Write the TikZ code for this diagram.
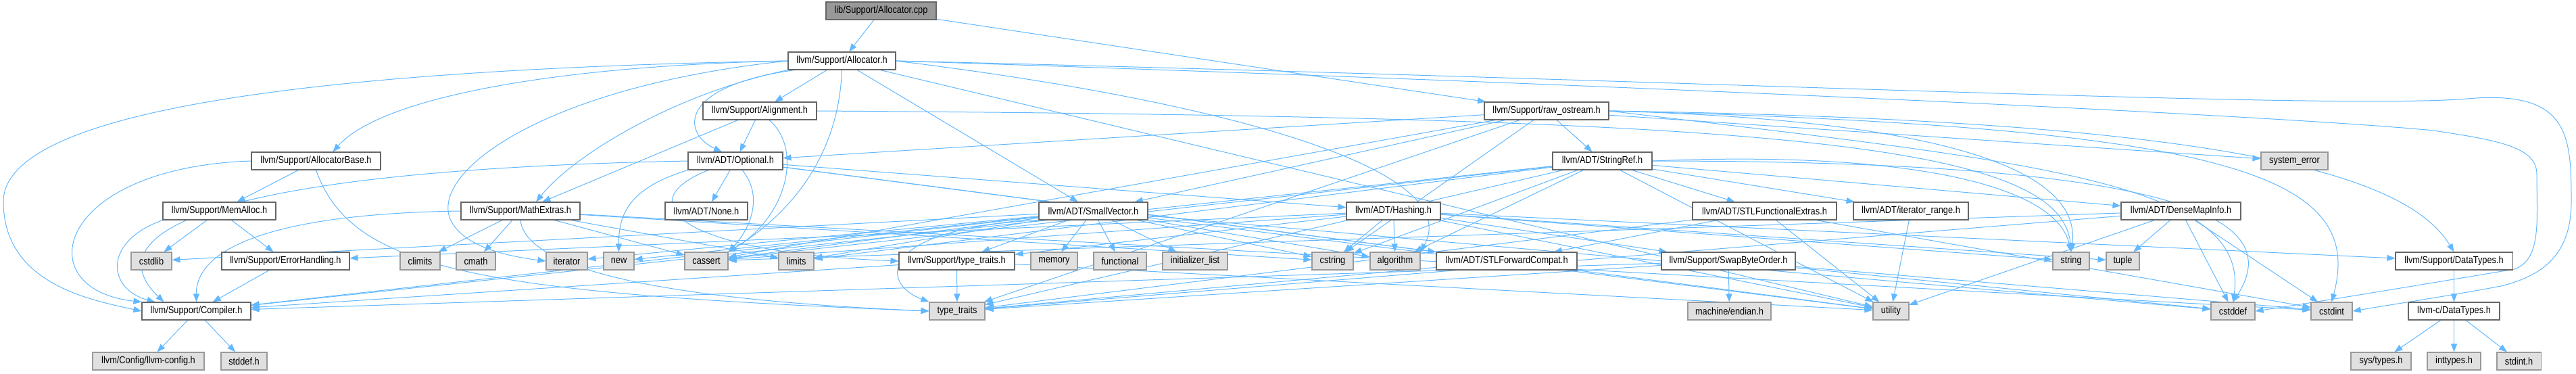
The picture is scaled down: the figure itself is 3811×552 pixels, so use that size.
\documentclass[tikz,border=0pt]{standalone}
\usepackage{fontspec}
\setmainfont{Liberation Sans}[FakeStretch=0.87]
\usetikzlibrary{arrows.meta,calc}
\definecolor{edgec}{HTML}{63B8FF}
\definecolor{bordA}{HTML}{666666}
\definecolor{bordB}{HTML}{999999}
\definecolor{fillB}{HTML}{E0E0E0}
\definecolor{fillR}{HTML}{999999}
\pgfdeclarelayer{bg}
\pgfsetlayers{bg,main}
\begin{document}
\begin{tikzpicture}[x=1pt,y=-1pt,
  box/.style={draw=bordA, fill=white, line width=1.1pt, minimum height=26pt, inner sep=0pt, font=\fontsize{14.7pt}{16pt}\selectfont},
  sysbox/.style={box, draw=bordB, fill=fillB},
  rootbox/.style={box, draw=bordA, fill=fillR},
  edge/.style={draw=edgec, line width=1pt, -{Triangle[length=12pt,width=9pt]}}]
\useasboundingbox (0,0) rectangle (3811,552);
% row 0
\node[rootbox, minimum width=163pt] (cpp) at (1303.5,16) {lib/Support/Allocator.cpp};
% row 1
\node[box, minimum width=159pt] (alloc) at (1245.5,90) {llvm/Support/Allocator.h};
% row 2
\node[box, minimum width=168pt] (align) at (1124,164) {llvm/Support/Alignment.h};
\node[box, minimum width=184pt] (raw) at (2288,164) {llvm/Support/raw\_ostream.h};
% row 3
\node[box, minimum width=191pt] (allocbase) at (467.5,238) {llvm/Support/AllocatorBase.h};
\node[box, minimum width=140pt] (optional) at (1088,238) {llvm/ADT/Optional.h};
\node[box, minimum width=147pt] (stringref) at (2370.5,238) {llvm/ADT/StringRef.h};
\node[sysbox, minimum width=99pt] (syserr) at (3394.5,238) {system\_error};
% row 4
\node[box, minimum width=167pt] (memalloc) at (324.5,312) {llvm/Support/MemAlloc.h};
\node[box, minimum width=176pt] (mathextras) at (770,312) {llvm/Support/MathExtras.h};
\node[box, minimum width=122pt] (none) at (1045,312) {llvm/ADT/None.h};
\node[box, minimum width=161pt] (smallvec) at (1617.5,312) {llvm/ADT/SmallVector.h};
\node[box, minimum width=139pt] (hashing) at (2061.5,312) {llvm/ADT/Hashing.h};
\node[box, minimum width=213pt] (stlfunc) at (2610.5,312) {llvm/ADT/STLFunctionalExtras.h};
\node[box, minimum width=170pt] (itrange) at (2827,312) {llvm/ADT/iterator\_range.h};
\node[box, minimum width=177pt] (densemap) at (3226.5,312) {llvm/ADT/DenseMapInfo.h};
% row 5
\node[sysbox, minimum width=60pt] (cstdlib) at (224,386) {cstdlib};
\node[box, minimum width=189pt] (errh) at (422.5,386) {llvm/Support/ErrorHandling.h};
\node[sysbox, minimum width=59pt] (climits) at (621.5,386) {climits};
\node[sysbox, minimum width=58pt] (cmath) at (704,386) {cmath};
\node[sysbox, minimum width=61pt] (iterator) at (838.5,386) {iterator};
\node[sysbox, minimum width=45pt] (new) at (915.5,386) {new};
\node[sysbox, minimum width=64pt] (cassert) at (1045,386) {cassert};
\node[sysbox, minimum width=52pt] (limits) at (1178,386) {limits};
\node[box, minimum width=171pt] (ltraits) at (1415.5,386) {llvm/Support/type\_traits.h};
\node[sysbox, minimum width=69pt] (memory) at (1559.5,386) {memory};
\node[sysbox, minimum width=78pt] (functional) at (1657,386) {functional};
\node[sysbox, minimum width=96pt] (initlist) at (1768,386) {initializer\_list};
\node[sysbox, minimum width=61pt] (cstring) at (1971.5,386) {cstring};
\node[sysbox, minimum width=74pt] (algorithm) at (2064,386) {algorithm};
\node[box, minimum width=208pt] (stlfwd) at (2229,386) {llvm/ADT/STLForwardCompat.h};
\node[box, minimum width=198pt] (swap) at (2557,386) {llvm/Support/SwapByteOrder.h};
\node[sysbox, minimum width=54pt] (string) at (3064,386) {string};
\node[sysbox, minimum width=49pt] (tuple) at (3140.5,386) {tuple};
\node[box, minimum width=173pt] (sdatatypes) at (3630.5,386) {llvm/Support/DataTypes.h};
% row 6
\node[box, minimum width=161pt] (compiler) at (290.5,460) {llvm/Support/Compiler.h};
\node[sysbox, minimum width=82pt] (typetraits) at (1416,460) {type\_traits};
\node[sysbox, minimum width=123pt] (endian) at (2558.5,460) {machine/endian.h};
\node[sysbox, minimum width=53pt] (utility) at (2797.5,460) {utility};
\node[sysbox, minimum width=65pt] (cstddef) at (3303.5,460) {cstddef};
\node[sysbox, minimum width=61pt] (cstdint) at (3449.5,460) {cstdint};
\node[box, minimum width=135pt] (cdatatypes) at (3630.5,460) {llvm-c/DataTypes.h};
% row 7
\node[sysbox, minimum width=165pt] (llvmconfig) at (219.5,534) {llvm/Config/llvm-config.h};
\node[sysbox, minimum width=68pt] (stddefh) at (361,534) {stddef.h};
\node[sysbox, minimum width=89pt] (systypes) at (3522.5,534) {sys/types.h};
\node[sysbox, minimum width=79pt] (inttypes) at (3630.5,534) {inttypes.h};
\node[sysbox, minimum width=65pt] (stdinth) at (3726.5,534) {stdint.h};

\begin{pgfonlayer}{bg}
\foreach \a/\b in {cpp/alloc, cpp/raw,
  alloc/align, alloc/smallvec, alloc/utility,
  align/mathextras, align/optional,
  allocbase/memalloc,
  memalloc/cstdlib, memalloc/errh,
  errh/compiler, compiler/llvmconfig, compiler/stddefh,
  mathextras/climits, mathextras/cmath, mathextras/cassert, mathextras/limits, mathextras/cstring, mathextras/cstdint,
  optional/none, optional/hashing, optional/stlfwd, optional/utility,
  smallvec/compiler, smallvec/ltraits, smallvec/memory, smallvec/functional, smallvec/initlist, smallvec/cstring, smallvec/algorithm, smallvec/cassert, smallvec/limits, smallvec/new, smallvec/iterator, smallvec/cstdlib, smallvec/cstddef, smallvec/utility,
  hashing/cstring, hashing/algorithm, hashing/swap, hashing/errh, hashing/ltraits, hashing/cassert, hashing/string, hashing/tuple, hashing/utility, hashing/sdatatypes,
  ltraits/typetraits, ltraits/compiler, ltraits/utility,
  stlfwd/typetraits,
  swap/endian, swap/compiler, swap/cstddef, swap/cstdint, swap/typetraits,
  stringref/stlfunc, stringref/itrange, stringref/densemap, stringref/cstring, stringref/algorithm, stringref/typetraits, stringref/utility, stringref/cassert, stringref/limits, stringref/compiler,
  stlfunc/stlfwd, stlfunc/typetraits, stlfunc/utility, stlfunc/cstdint,
  itrange/utility,
  densemap/tuple, densemap/utility, densemap/cstddef, densemap/cstdint, densemap/cassert, densemap/typetraits,
  raw/stringref, raw/smallvec, raw/optional, raw/cassert, raw/cstring, raw/syserr, raw/typetraits,
  sdatatypes/cdatatypes, cdatatypes/systypes, cdatatypes/inttypes, cdatatypes/stdinth}
  \draw[edge] (\a) -- (\b);
% curved edges
\draw[edge] (alloc.west) .. controls (500,102) and (5,158) .. (5,298) .. controls (5,418) and (130,443) .. (compiler.west);
\draw[edge] (alloc.west) .. controls (800,98) and (560,148) .. ($(allocbase.north)+(25,0)$);
\draw[edge] (alloc.south west) .. controls (1000,138) and (850,228) .. ($(mathextras.north)+(23,0)$);
\draw[edge] ($(alloc.south west)+(10,0)$) .. controls (1000,128) and (1010,198) .. ($(optional.north)+(-20,0)$);
\draw[edge] (alloc.south) .. controls (1240,248) and (1150,328) .. (cassert.north east);
\draw[edge] (alloc.west) .. controls (800,128) and (630,258) .. (668,328) .. controls (690,368) and (760,380) .. (iterator.west);
\draw[edge] (alloc.east) .. controls (1800,148) and (2170,248) .. (algorithm.north east);
\draw[edge] (alloc.east) .. controls (2500,118) and (3450,163) .. (3650,146) .. controls (3800,133) and (3804,198) .. (3804,298) .. controls (3804,378) and (3760,408) .. (3700,423) .. controls (3620,438) and (3540,450) .. (cstdint.east);
\draw[edge] (alloc.east) .. controls (2500,128) and (3400,173) .. (3600,193) .. controls (3700,208) and (3753,218) .. (3753,258) .. controls (3753,328) and (3760,383) .. (3720,398) .. controls (3600,418) and (3420,448) .. (cstddef.east);
\draw[edge] ($(align.south)+(14,0)$) .. controls (1188,220) and (1165,320) .. (cassert.north east);
\draw[edge] ($(optional.south)+(10,0)$) .. controls (1130,290) and (1110,338) .. (cassert.north east);
\draw[edge] (optional.south west) .. controls (930,278) and (915,318) .. (new.north);
\draw[edge] ($(optional.south)+(-40,0)$) .. controls (930,298) and (1000,373) .. (ltraits.west);
\draw[edge] (allocbase.west) .. controls (80,248) and (40,428) .. (compiler.north west);
\draw[edge] (memalloc.south west) .. controls (150,358) and (160,428) .. ($(compiler.north west)+(20,0)$);
\draw[edge] (optional.west) .. controls (250,253) and (150,358) .. ($(compiler.north west)+(33,0)$);
\draw[edge] (mathextras.west) .. controls (400,316) and (290,368) .. (compiler.north);
\draw[edge] (allocbase.south) .. controls (520,398) and (700,433) .. (typetraits.west);
\draw[edge] (mathextras.south) .. controls (780,418) and (1100,448) .. (typetraits.west);
\draw[edge] (smallvec.south west) .. controls (1300,338) and (1300,418) .. (typetraits.north west);
\draw[edge] (align.east) .. controls (2600,173) and (3050,208) .. (string.north);
\draw[edge] (raw.east) .. controls (2900,178) and (3080,258) .. (string.north);
\draw[edge] (stringref.east) .. controls (2800,223) and (3040,268) .. (string.north);
\draw[edge] (raw.east) .. controls (3300,178) and (3560,258) .. (sdatatypes.north);
\draw[edge] (raw.east) .. controls (3300,188) and (3500,258) .. (cstdint.north);
\draw[edge] (raw.east) .. controls (3000,238) and (3330,268) .. (cstddef.north);
\draw[edge] (stringref.east) .. controls (3250,238) and (3380,328) .. (cstddef.north);
\end{pgfonlayer}
\end{tikzpicture}
\end{document}
